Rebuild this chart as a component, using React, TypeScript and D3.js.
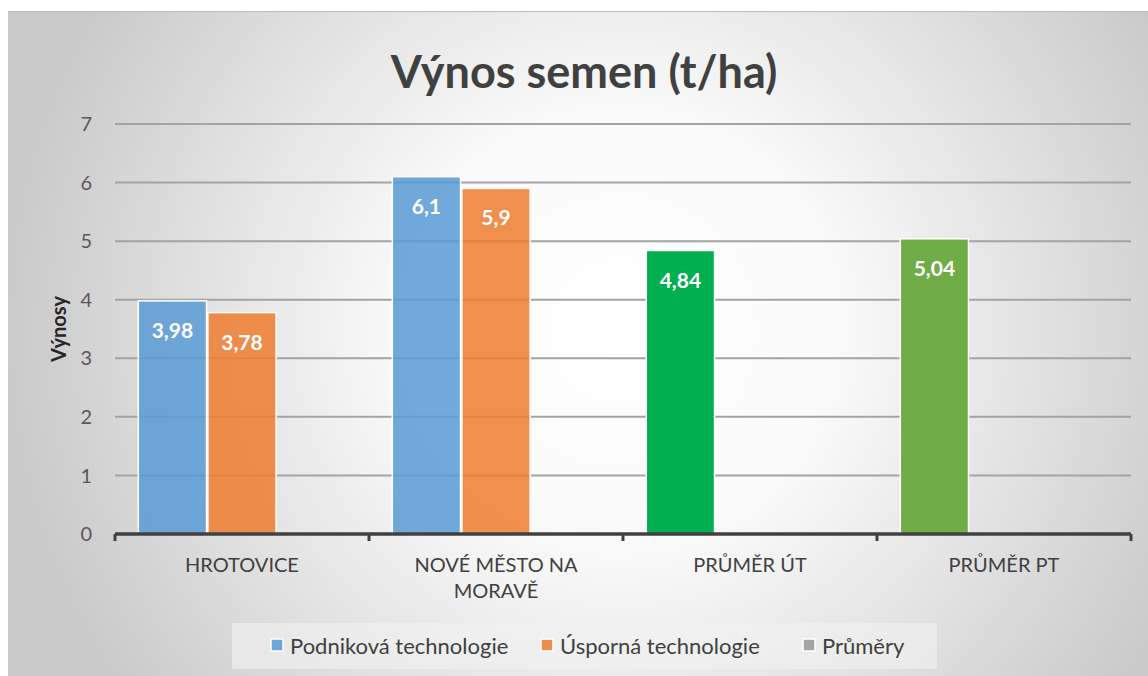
import React, { useEffect, useRef } from "react";
import * as d3 from "d3";

// chart data
const categories = ["HROTOVICE", "NOVÉ MĚSTO NA MORAVĚ", "PRŮMĚR ÚT", "PRŮMĚR PT"];
const categoryLines = [["HROTOVICE"], ["NOVÉ MĚSTO NA", "MORAVĚ"], ["PRŮMĚR ÚT"], ["PRŮMĚR PT"]];
const seriesNames = ["Podniková technologie", "Úsporná technologie", "Průměry"];
const podnikova: (number | null)[] = [3.98, 6.1, 4.84, 5.04];
const usporna: (number | null)[] = [3.78, 5.9, null, null];
const prumery: (number | null)[] = [null, null, null, null];
const yTicks = [0, 1, 2, 3, 4, 5, 6, 7];

const seriesColors = ["#5B9BD5", "#ED7D31", "#A5A5A5"];
// per-point colour overrides for the average bars
const pointColors: Record<string, string> = { "0-2": "#00B050", "0-3": "#70AD47" };

const W = 1148;
const H = 676;

const fmt = (v: number) => String(v).replace(".", ",");

const App: React.FC = () => {
    const svgRef = useRef<SVGSVGElement>(null);

    useEffect(() => {
        if (!svgRef.current) return;
        const svg = d3.select(svgRef.current);
        svg.selectAll("*").remove();
        const font = "Lato, 'Open Sans', sans-serif";

        // background gradient
        const defs = svg.append("defs");
        const grad = defs
            .append("radialGradient")
            .attr("id", "bg")
            .attr("gradientUnits", "userSpaceOnUse")
            .attr("cx", 620)
            .attr("cy", 330)
            .attr("r", 620);
        grad.append("stop").attr("offset", "0%").attr("stop-color", "#ffffff");
        grad.append("stop").attr("offset", "35%").attr("stop-color", "#fafafa");
        grad.append("stop").attr("offset", "100%").attr("stop-color", "#c9c9c9");

        svg.append("rect").attr("x", 8).attr("y", 11).attr("width", W - 8).attr("height", H - 11).attr("fill", "url(#bg)");
        svg.append("line").attr("x1", 8).attr("x2", W).attr("y1", 11.5).attr("y2", 11.5).attr("stroke", "#bdbdbd");

        const margin = { left: 115, right: 15, top: 124, bottom: 142 };
        const innerW = W - margin.left - margin.right - 2;
        const innerH = H - margin.top - margin.bottom;

        const x = d3.scaleBand<string>().domain(categories).range([0, innerW]).paddingInner(0).paddingOuter(0);
        const x1 = d3
            .scaleBand<string>()
            .domain(seriesNames)
            .range([0, x.bandwidth()])
            .paddingInner(0.02)
            .paddingOuter(0.335);
        const y = d3.scaleLinear().domain([0, 7]).range([innerH, 0]);

        const g = svg.append("g").attr("transform", `translate(${margin.left},${margin.top})`);

        // title
        svg.append("text")
            .attr("x", 584)
            .attr("y", 88)
            .attr("text-anchor", "middle")
            .attr("font-family", font)
            .attr("font-weight", "bold")
            .attr("font-size", 45)
            .attr("fill", "#404040")
            .text("Výnos semen (t/ha)");

        // gridlines
        g.append("g")
            .selectAll("line")
            .data(yTicks.filter(t => t > 0))
            .join("line")
            .attr("x1", 0)
            .attr("x2", innerW)
            .attr("y1", d => y(d))
            .attr("y2", d => y(d))
            .attr("stroke", "#a3a3a3")
            .attr("stroke-width", 2);

        // y tick labels
        g.append("g")
            .selectAll("text")
            .data(yTicks)
            .join("text")
            .attr("x", -23)
            .attr("y", d => y(d))
            .attr("dy", "0.36em")
            .attr("text-anchor", "end")
            .attr("font-family", font)
            .attr("font-size", 20)
            .attr("fill", "#595959")
            .text(d => d);

        // y title
        svg.append("text")
            .attr("transform", `translate(66,${margin.top + y(3.5)}) rotate(-90)`)
            .attr("text-anchor", "middle")
            .attr("font-family", font)
            .attr("font-weight", "bold")
            .attr("font-size", 20)
            .attr("fill", "#262626")
            .text("Výnosy");

        // bars
        const allSeries = [podnikova, usporna, prumery];
        allSeries.forEach((vals, si) => {
            vals.forEach((v, ci) => {
                if (v == null) return;
                const key = `${si}-${ci}`;
                const bx = x(categories[ci])! + x1(seriesNames[si])!;
                const override = pointColors[key];
                g.append("rect")
                    .attr("x", bx)
                    .attr("y", y(v))
                    .attr("width", x1.bandwidth())
                    .attr("height", y(0) - y(v))
                    .attr("fill", override ?? seriesColors[si])
                    .attr("fill-opacity", override ? 1 : 0.86)
                    .attr("stroke", "#ffffff")
                    .attr("stroke-width", 1.5);
                g.append("text")
                    .attr("x", bx + x1.bandwidth() / 2)
                    .attr("y", y(v) + 37)
                    .attr("text-anchor", "middle")
                    .attr("font-family", font)
                    .attr("font-weight", "bold")
                    .attr("font-size", 21)
                    .attr("fill", "#ffffff")
                    .text(fmt(v));
            });
        });

        // x axis line and ticks
        g.append("line")
            .attr("x1", 0)
            .attr("x2", innerW)
            .attr("y1", y(0))
            .attr("y2", y(0))
            .attr("stroke", "#404040")
            .attr("stroke-width", 3.5);
        const bounds = categories.map(c => x(c)!).concat([innerW]);
        g.append("g")
            .selectAll("line")
            .data(bounds)
            .join("line")
            .attr("x1", d => d)
            .attr("x2", d => d)
            .attr("y1", y(0))
            .attr("y2", y(0) + 7)
            .attr("stroke", "#404040")
            .attr("stroke-width", 3);

        // category labels
        categories.forEach((c, i) => {
            const t = g.append("text")
                .attr("x", x(c)! + x.bandwidth() / 2)
                .attr("y", innerH + 38)
                .attr("text-anchor", "middle")
                .attr("font-family", font)
                .attr("font-size", 20)
                .attr("fill", "#404040");
            categoryLines[i].forEach((line, li) => {
                t.append("tspan")
                    .attr("x", x(c)! + x.bandwidth() / 2)
                    .attr("dy", li === 0 ? 0 : 26)
                    .text(line);
            });
        });

        // legend
        svg.append("rect")
            .attr("x", 232)
            .attr("y", 623)
            .attr("width", 705)
            .attr("height", 46)
            .attr("fill", "#f2f2f2")
            .attr("fill-opacity", 0.6);
        const legendX = [271, 541, 803];
        seriesNames.forEach((name, i) => {
            svg.append("rect")
                .attr("x", legendX[i])
                .attr("y", 639)
                .attr("width", 12)
                .attr("height", 12)
                .attr("fill", seriesColors[i])
                .attr("fill-opacity", i < 2 ? 0.86 : 1)
                .attr("stroke", "#ffffff")
                .attr("stroke-width", 1.5);
            svg.append("text")
                .attr("x", legendX[i] + 19)
                .attr("y", 646)
                .attr("dy", "0.36em")
                .attr("font-family", font)
                .attr("font-size", 22)
                .attr("fill", "#404040")
                .text(name);
        });
    }, []);

    return <svg ref={svgRef} width={W} height={H} style={{ position: "absolute", left: 0, top: 0 }}></svg>;
};

export default App;
